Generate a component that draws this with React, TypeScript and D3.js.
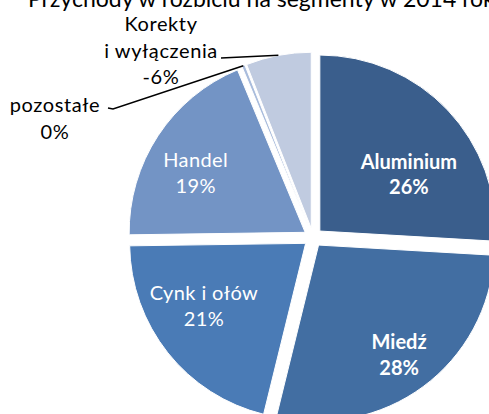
import * as d3 from 'd3'

// segment revenue shares, 2014 (Korekty is negative, drawn by its size)
const segments = ['Aluminium', 'Miedź', 'Cynk i ołów', 'Handel', 'pozostałe', 'Korekty i wyłączenia']
const shares = [26, 28, 21, 19, 0.3, -6]
const colors = ['#3a5e8c', '#426ea2', '#4a7bb6', '#7394c5', '#a9bcdc', '#c0cbe0']
const boldLabels = ['Aluminium', 'Miedź']

const title = 'Przychody w rozbiciu na segmenty w 2014 roku'

const W = 489
const H = 414
const cx = 313
const cy = 237.5
const radius = 176
const explode = 9.4
const FONT = 'Lato, "Open Sans", sans-serif'

// inside labels: polar position (deg, px) from each exploded slice tip
const insideLabels = [
  { i: 0, angle: 58, dist: 105 },
  { i: 1, angle: 144, dist: 137 },
  { i: 2, angle: 238, dist: 120 },
  { i: 3, angle: 298, dist: 124 },
]

// outside labels with leader lines
const outsideLabels = [
  { i: 4, lines: ['pozostałe'], x: 55, y: 112, lead: [[108, 108], [113, 109]] },
  { i: 5, lines: ['Korekty', 'i wyłączenia'], x: 161, y: 31, lead: [[221, 58]] },
]

const fmt = (v: number) => `${Math.round(v)}%`

export default function App() {
  const pie = d3.pie<number>().value(d => Math.abs(d)).sort(null)
  const arcs = pie(shares)
  const arc = d3.arc<d3.PieArcDatum<number>>().innerRadius(0).outerRadius(radius)

  const tip = (a: d3.PieArcDatum<number>) => {
    const mid = (a.startAngle + a.endAngle) / 2
    return [cx + explode * Math.sin(mid), cy - explode * Math.cos(mid)]
  }
  const rimPoint = (a: d3.PieArcDatum<number>) => {
    const mid = (a.startAngle + a.endAngle) / 2
    const [tx, ty] = tip(a)
    return [tx + radius * Math.sin(mid), ty - radius * Math.cos(mid)]
  }
  const line = d3.line()
  const lh = 25.5

  return (
    <svg
      width={W}
      height={H}
      style={{ position: 'absolute', left: 0, top: 0, background: '#fff', overflow: 'hidden' }}
      fontFamily={FONT}
    >
      <text x={28} y={7} fontSize={23} fill="#000">{title}</text>

      {arcs.map((a, i) => {
        const [tx, ty] = tip(a)
        return (
          <path
            key={segments[i]}
            d={arc(a) || ''}
            transform={`translate(${tx},${ty})`}
            fill={colors[i]}
            stroke="#fff"
            strokeWidth={1}
          />
        )
      })}

      {insideLabels.map(l => {
        const a = arcs[l.i]
        const [tx, ty] = tip(a)
        const rad = (l.angle * Math.PI) / 180
        const x = tx + l.dist * Math.sin(rad)
        const y = ty - l.dist * Math.cos(rad)
        const bold = boldLabels.includes(segments[l.i])
        return (
          <text
            key={segments[l.i]}
            x={x}
            y={y - lh / 2 + 6}
            textAnchor="middle"
            fill="#fff"
            fontSize={20}
            fontWeight={bold ? 700 : 400}
            letterSpacing={bold ? 0 : 0.4}
          >
            <tspan x={x}>{segments[l.i]}</tspan>
            <tspan x={x} dy={lh}>{fmt(shares[l.i])}</tspan>
          </text>
        )
      })}

      {outsideLabels.map(l => {
        const a = arcs[l.i]
        const pts = [...l.lead, rimPoint(a)] as [number, number][]
        return (
          <g key={segments[l.i]}>
            <path d={line(pts) || ''} fill="none" stroke="#000" strokeWidth={1.5} />
            <text x={l.x} y={l.y} textAnchor="middle" fill="#000" fontSize={20} letterSpacing={0.6}>
              {l.lines.map((t, k) => (
                <tspan key={t} x={l.x} dy={k === 0 ? 0 : 26.5}>{t}</tspan>
              ))}
              <tspan x={l.x} dy={26.5}>{fmt(shares[l.i])}</tspan>
            </text>
          </g>
        )
      })}
    </svg>
  )
}
